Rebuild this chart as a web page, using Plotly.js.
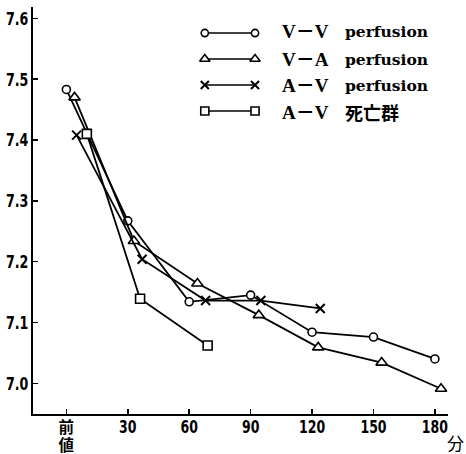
<!DOCTYPE html>
<html>
<head>
<meta charset="utf-8">
<script src="https://cdn.plot.ly/plotly-3.0.1.min.js"></script>
<style>html,body{margin:0;padding:0;background:#fff;}#chart{width:466px;height:454px;}</style>
</head>
<body>
<div id="chart"></div>
<script>
// ---- data ----
const seriesNames = ["V－V", "V－A", "A－V", "A－V"];
const seriesSuffix = ["perfusion", "perfusion", "perfusion", "死亡群"];
const seriesSymbols = ["circle", "triangle-up", "x-thin", "square"];

const vvX = [0, 30, 60, 90, 120, 150, 180];
const vvY = [7.483, 7.267, 7.134, 7.145, 7.084, 7.076, 7.040];

const vaX = [4, 33, 64, 94, 123, 154, 183];
const vaY = [7.470, 7.234, 7.164, 7.112, 7.059, 7.034, 6.991];

const avX = [5, 37, 68, 95, 124];
const avY = [7.408, 7.204, 7.136, 7.136, 7.123];

const adX = [10, 36, 69];
const adY = [7.410, 7.139, 7.062];

const xTickVals = [0, 30, 60, 90, 120, 150, 180];
const xTickText = ["前<br>値", "30", "60", "90", "120", "150", "180"];
const yTickVals = [7.0, 7.1, 7.2, 7.3, 7.4, 7.5, 7.6];
const yTickText = ["7.0", "7.1", "7.2", "7.3", "7.4", "7.5", "7.6"];
const xUnit = "分";

// legend key rows
const legendRows = [0, 1, 2, 3];

const condensed = "DejaVu Sans Condensed, DejaVu Sans, Noto Sans CJK JP";

// style tick text: digits larger, CJK slightly smaller (keeps line spacing tight)
function styleXTick(t) {
  if (/^[0-9]+$/.test(t)) return "<span style='font-size:17px'>" + t + "</span>";
  return t.split("<br>").map(s => "<span style='font-size:15.5px'>" + s + "</span>").join("<br>");
}

const xs = [vvX, vaX, avX, adX];
const ys = [vvY, vaY, avY, adY];
const sizes = [8, 10, 9, 9];

function markerFor(i, scale) {
  scale = scale || 1;
  if (seriesSymbols[i] === "x-thin") {
    return {symbol: "x-thin", size: sizes[i] * scale, color: "#000", line: {color: "#000", width: 2}};
  }
  return {symbol: seriesSymbols[i], size: sizes[i] * scale, color: "#fff", line: {color: "#000", width: 1.6}};
}

const traces = [];
for (let i = 0; i < 4; i++) {
  traces.push({
    x: xs[i], y: ys[i], type: "scatter", mode: "lines+markers",
    line: {color: "#000", width: 1.8},
    marker: markerFor(i),
    showlegend: false, cliponaxis: false
  });
}
// custom legend keys: marker – line – marker
for (let i = 0; i < 4; i++) {
  traces.push({
    x: [0, 1], y: [legendRows[i], legendRows[i]], xaxis: "x2", yaxis: "y2",
    type: "scatter", mode: "lines+markers",
    line: {color: "#000", width: 1.6},
    marker: markerFor(i, 0.9),
    showlegend: false, hoverinfo: "skip", cliponaxis: false
  });
}

// legend text, paper coordinates
const legendTextY = [0.9386, 0.8698, 0.8059, 0.7420];
const annotations = [];
for (let i = 0; i < 4; i++) {
  annotations.push({
    xref: "paper", yref: "paper", x: 0.595, y: legendTextY[i], xanchor: "left", yanchor: "middle",
    text: seriesNames[i], showarrow: false,
    font: {family: "Liberation Serif, Noto Sans CJK JP", size: 19, color: "#000", weight: "bold"}
  });
  const isCJK = /[^\x00-\x7f]/.test(seriesSuffix[i]);
  annotations.push({
    xref: "paper", yref: "paper", x: 0.747, y: legendTextY[i], xanchor: "left", yanchor: "middle",
    text: seriesSuffix[i], showarrow: false,
    font: isCJK ? {family: "Noto Sans CJK JP", size: 18, color: "#000", weight: "bold"}
                : {family: "DejaVu Serif", size: 15.5, color: "#000", weight: "bold"}
  });
}
annotations.push({
  xref: "paper", yref: "paper", x: 1.018, y: -0.071, xanchor: "center", yanchor: "middle",
  text: xUnit, showarrow: false,
  font: {family: "Noto Sans CJK JP", size: 17, color: "#000"}
});

const layout = {
  width: 466, height: 454,
  margin: {l: 33, r: 18, t: 7, b: 40},
  paper_bgcolor: "#fff", plot_bgcolor: "#fff",
  showlegend: false,
  xaxis: {
    range: [-16.3, 186.4], tickvals: xTickVals, ticktext: xTickText.map(styleXTick),
    showgrid: false, zeroline: false, showline: true, linecolor: "#000", linewidth: 2,
    ticks: "inside", ticklen: 5, tickwidth: 1.5, tickcolor: "#000",
    ticklabelstandoff: 0,
    tickfont: {family: condensed, size: 14, color: "#000", weight: "bold"}
  },
  yaxis: {
    range: [6.9495, 7.6186], tickvals: yTickVals, ticktext: yTickText,
    showgrid: false, zeroline: false, showline: true, linecolor: "#000", linewidth: 2,
    ticks: "inside", ticklen: 5, tickwidth: 1.5, tickcolor: "#000",
    ticklabelstandoff: -1,
    tickfont: {family: condensed, size: 18.5, color: "#000", weight: "bold"}
  },
  xaxis2: {domain: [0.414, 0.535], range: [0, 1], visible: false, anchor: "y2", fixedrange: true},
  yaxis2: {domain: [0.7125, 0.968], range: [3.5, -0.5], visible: false, anchor: "x2", fixedrange: true},
  annotations: annotations
};

// narrow the numeric tick labels horizontally about their anchor (the original uses a tall condensed face)
function squeeze(textEl, k) {
  const x = parseFloat(textEl.getAttribute("x")) || 0;
  const tr = textEl.getAttribute("transform") || "";
  textEl.setAttribute("transform", tr + " translate(" + x + ",0) scale(" + k + ",1) translate(" + (-x) + ",0)");
}

Plotly.newPlot("chart", traces, layout, {displayModeBar: false, staticPlot: true}).then(function (gd) {
  gd.querySelectorAll(".ytick text").forEach(t => squeeze(t, 0.76));
  gd.querySelectorAll(".xtick text").forEach(t => {
    if (/^[0-9]+$/.test(t.textContent.trim())) squeeze(t, 0.82);
  });
});
</script>
</body>
</html>
